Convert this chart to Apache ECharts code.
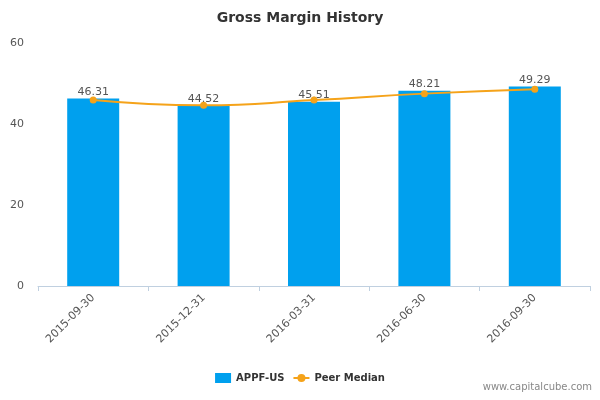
<!DOCTYPE html>
<html lang="en">
<head>
    <meta charset="UTF-8">
    <title>Gross Margin History</title>
    <script src="https://cdn.jsdelivr.net/npm/echarts@6/dist/echarts.min.js"></script>
</head>
<body style="margin:0">
<div id="myDiv" style="width:600px;height:400px"></div>
<script>
    var categories = ["2015-09-30", "2015-12-31", "2016-03-31", "2016-06-30", "2016-09-30"];
    var companyValues = [46.31, 44.52, 45.51, 48.21, 49.29];
    var peerValues = [45.9, 44.6, 45.9, 47.5, 48.6];

    var chart = echarts.init(document.getElementById("myDiv"));
    var option = {
        title: {
            text: "Gross Margin History",
            left: "center",
            top: 6,
            textStyle: {fontFamily: "DejaVu Sans", fontSize: 14, fontWeight: "bold", color: "#333"}
        },
        graphic: [{
            type: "text", right: 8, bottom: 8,
            style: {text: "www.capitalcube.com", fill: "#888", font: "10px DejaVu Sans"}
        }],
        legend: {
            bottom: 12,
            itemWidth: 16, itemHeight: 10,
            textStyle: {fontFamily: "DejaVu Sans", fontSize: 10, fontWeight: "bold", color: "#333"},
            data: [{name: "APPF-US", icon: "rect"}, {name: "Peer Median"}]
        },
        grid: {left: 38, right: 10, top: 43, bottom: 114},
        xAxis: {
            type: "category",
            data: categories,
            axisLine: {lineStyle: {color: "#c0d0e0"}},
            axisTick: {show: true, lineStyle: {color: "#c0d0e0"}},
            axisLabel: {rotate: 45, color: "#555", fontFamily: "DejaVu Sans", fontSize: 11, margin: 10}
        },
        yAxis: {
            type: "value", min: 0, max: 60, interval: 20,
            axisLine: {show: false}, axisTick: {show: false},
            splitLine: {show: false},
            axisLabel: {color: "#555", fontFamily: "DejaVu Sans", fontSize: 11, margin: 14}
        },
        series: [
            {
                name: "APPF-US", type: "bar", data: companyValues, barWidth: 52,
                itemStyle: {color: "#00a0ee"},
                label: {show: true, position: "top", color: "#555", fontFamily: "DejaVu Sans", fontSize: 11, distance: 1, formatter: function (p) { return p.value.toFixed(2); }}
            },
            {
                name: "Peer Median", type: "line", data: peerValues, smooth: true,
                symbol: "circle", symbolSize: 7,
                lineStyle: {color: "#f5a31a", width: 2},
                itemStyle: {color: "#f5a31a"}
            }
        ]
    };
    chart.setOption(option);
</script>
</body>
</html>
